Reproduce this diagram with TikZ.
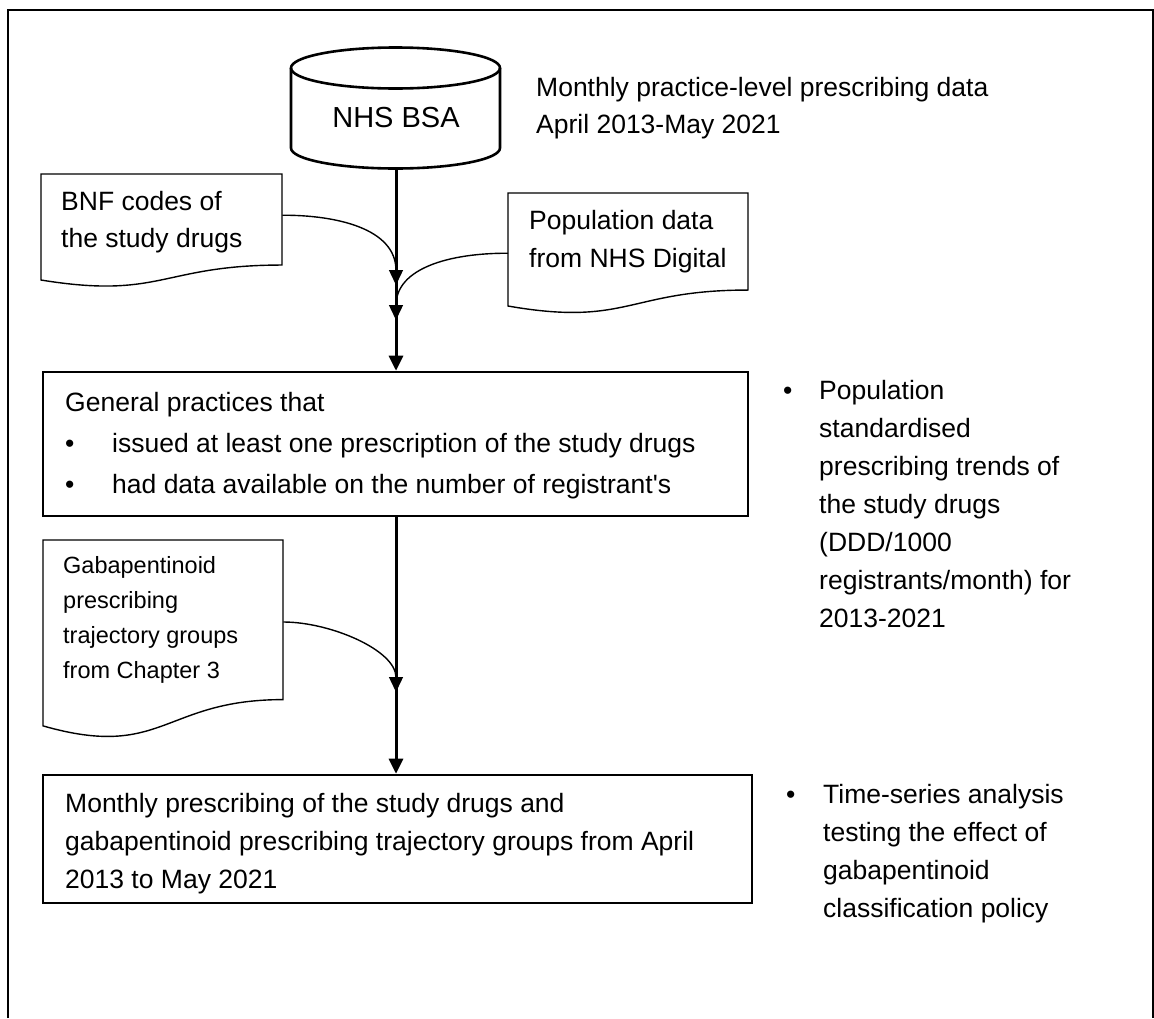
\documentclass[tikz,border=0pt]{standalone}
\usepackage{fontspec}
\setmainfont{Liberation Sans}
\newfontfamily\arialfont{Liberation Sans}
\usetikzlibrary{arrows.meta,calc}
\newcommand{\mlines}[2]{\vtop{\baselineskip=#1\lineskiplimit=-100pt\lineskip=0pt\relax #2}}
\newcommand{\docshape}[5]{%
  \node[inner sep=0pt, minimum width=#3pt, minimum height={0.802*#4pt}, anchor=north west] (#5) at (#1,#2) {};
  \draw[docline] (#1,#2) -- (#1+#3,#2) -- (#1+#3,#2+0.802*#4)
    .. controls (#1+0.5*#3,#2+0.802*#4) and (#1+0.5*#3,#2+1.107*#4) .. (#1,#2+0.934*#4) -- cycle;}
\begin{document}
\begin{tikzpicture}[x=1pt,y=-1pt,
  txt/.style={font=\arialfont\fontsize{26.5}{37}\selectfont, inner sep=0pt, anchor=base west},
  smalltxt/.style={font=\arialfont\fontsize{23.5}{35}\selectfont, inner sep=0pt, anchor=base west},
  frame/.style={line width=2pt, draw=black},
  cyl/.style={line width=2.6pt, draw=black},
  docline/.style={line width=1.4pt, draw=black},
  boxstyle/.style={draw=black, line width=2.6pt, inner sep=0pt, rectangle},
  mainarrow/.style={line width=3pt, -{Triangle[length=15pt,width=14pt]}},
  curvearrow/.style={line width=1.4pt, -{Triangle[length=15pt,width=14pt]}}]
\useasboundingbox (0,0) rectangle (1154,1018);
% outer frame
\draw[frame] (8,1018) -- (8,10) -- (1153,10) -- (1153,1018);
% database cylinder
\draw[cyl] (291,68) -- (291,148) arc[start angle=180,end angle=0,x radius=104.5,y radius=20.5] -- (500,68);
\draw[cyl] (395.5,68) ellipse [x radius=104.5, y radius=20.5];
\node[font=\arialfont\fontsize{29}{35}\selectfont, inner sep=0pt, anchor=base] (nhs) at (396,127) {NHS BSA};
\coordinate (cylbot) at (396,168.5);
\node[txt] (src) at (536,96) {\mlines{37pt}{\hbox{Monthly practice-level prescribing data}\hbox{April 2013-May 2021}}};
% documents
\docshape{41}{174}{241}{113.5}{bnf}
\node[txt] (bnftxt) at (61,210) {\mlines{37pt}{\hbox{BNF codes of}\hbox{the study drugs}}};
\docshape{508}{193}{240}{121}{pop}
\node[txt] (poptxt) at (529,229) {\mlines{38pt}{\hbox{Population data}\hbox{from NHS Digital}}};
\docshape{43}{540}{240}{199}{gab}
\node[smalltxt] (gabtxt) at (63,573) {\mlines{35pt}{\hbox{Gabapentinoid}\hbox{prescribing}\hbox{trajectory groups}\hbox{from Chapter 3}}};
% boxes
\node[boxstyle, minimum width=705pt, minimum height=144pt] (box1) at (395.5,444) {};
\node[txt] (box1txt) at (65,411) {\mlines{41pt}{\hbox{General practices that}%
  \hbox{\makebox[47pt][l]{•}issued at least one prescription of the study drugs}%
  \hbox{\makebox[47pt][l]{•}had data available on the number of registrant's}}};
\node[boxstyle, minimum width=709pt, minimum height=128pt] (box2) at (397.5,839) {};
\node[txt] (box2txt) at (65,812) {\mlines{38pt}{\hbox{Monthly prescribing of the study drugs and}%
  \hbox{gabapentinoid prescribing trajectory groups from April}\hbox{2013 to May 2021}}};
% right side bullets
\node[txt] (bul1) at (783,399) {•};
\node[txt] (out1) at (819,399) {\mlines{38pt}{\hbox{Population}\hbox{standardised}\hbox{prescribing trends of}%
  \hbox{the study drugs}\hbox{(DDD/1000}\hbox{registrants/month) for}\hbox{2013-2021}}};
\node[txt] (bul2) at (786,803) {•};
\node[txt] (out2) at (823,803) {\mlines{38pt}{\hbox{Time-series analysis}\hbox{testing the effect of}%
  \hbox{gabapentinoid}\hbox{classification policy}}};
% connectors
\coordinate (m1) at (396,285);
\coordinate (m2) at (396,320);
\coordinate (m3) at (396,692);
\draw[mainarrow] (cylbot) -- (cylbot |- box1.north);
\draw[mainarrow] (box1.south -| cylbot) -- (box2.north -| cylbot);
\draw[curvearrow] ([yshift=4.5pt]bnf.east) .. controls (335,215) and (396,228) .. (m1);
\draw[curvearrow] ([yshift=-11.5pt]pop.west) .. controls (450,253) and (396,268) .. (m2);
\draw[curvearrow] ([yshift=-2pt]gab.east) .. controls (330,622) and (396,650) .. (m3);
\end{tikzpicture}
\end{document}
